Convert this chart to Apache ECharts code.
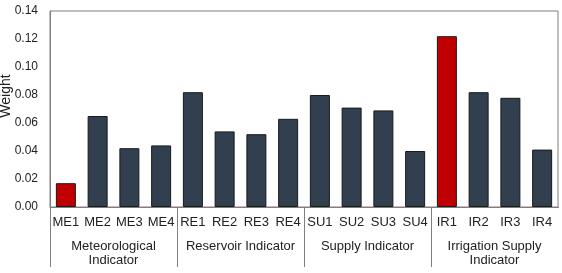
<!DOCTYPE html>
<html>
<head>
<meta charset="utf-8">
<script src="https://cdn.jsdelivr.net/npm/echarts@6/dist/echarts.min.js"></script>
<style>
  html, body { margin: 0; padding: 0; background: #fff; }
  #chart { width: 562px; height: 273px; }
</style>
</head>
<body>
<div id="chart"></div>
<script>
  // indicators and their weights
  const indicators = ['ME1', 'ME2', 'ME3', 'ME4', 'RE1', 'RE2', 'RE3', 'RE4',
    'SU1', 'SU2', 'SU3', 'SU4', 'IR1', 'IR2', 'IR3', 'IR4'];
  const weights = [0.017, 0.065, 0.042, 0.044, 0.082, 0.054, 0.052, 0.063,
    0.080, 0.071, 0.069, 0.040, 0.122, 0.082, 0.078, 0.041];
  const groups = ['Meteorological\nIndicator', 'Reservoir Indicator', 'Supply Indicator', 'Irrigation Supply\nIndicator'];
  const highlighted = ['ME1', 'IR1'];

  const font = 'Liberation Sans, Arial, sans-serif';
  const lineColor = '#7f7f7f';

  const chart = echarts.init(document.getElementById('chart'));
  chart.setOption({
    animation: false,
    grid: {
      left: 50,
      right: 4,
      top: 11,
      bottom: 66,
      outerBoundsMode: 'none',
      show: true,
      borderColor: lineColor,
      borderWidth: 1
    },
    xAxis: [
      {
        type: 'category',
        data: indicators,
        axisLine: { lineStyle: { color: lineColor } },
        axisTick: { show: false },
        axisLabel: { color: '#222', fontSize: 13, fontFamily: font, margin: 9, interval: 0 }
      },
      {
        type: 'category',
        data: groups,
        position: 'bottom',
        axisLine: { show: false },
        axisTick: { show: true, length: 60, lineStyle: { color: lineColor } },
        axisLabel: { color: '#222', fontSize: 13, fontFamily: font, margin: 32, lineHeight: 14, interval: 0 }
      }
    ],
    yAxis: {
      type: 'value',
      min: 0,
      max: 0.14,
      interval: 0.02,
      name: 'Weight',
      nameLocation: 'middle',
      nameGap: 37,
      nameMoveOverlap: false,
      nameTextStyle: { color: '#222', fontSize: 14, fontFamily: font, padding: [0, 0, 0, 26] },
      axisLine: { show: true, lineStyle: { color: lineColor } },
      axisTick: { show: false },
      splitLine: { show: false },
      axisLabel: {
        color: '#222',
        fontSize: 12,
        fontFamily: font,
        margin: 12,
        formatter: v => v.toFixed(2)
      }
    },
    // the group separator at the right end does not reach below the plot
    graphic: [{
      type: 'rect',
      right: 0,
      bottom: 0,
      shape: { width: 5, height: 65 },
      style: { fill: '#fff' },
      z: 100
    }],
    series: [{
      type: 'bar',
      xAxisIndex: 0,
      barWidth: 20,
      data: weights.map((w, i) => ({
        value: w,
        itemStyle: { color: highlighted.includes(indicators[i]) ? '#c00000' : '#323f4f' }
      })),
      itemStyle: { borderColor: '#1a1a1a', borderWidth: 1 }
    }]
  });
</script>
</body>
</html>
